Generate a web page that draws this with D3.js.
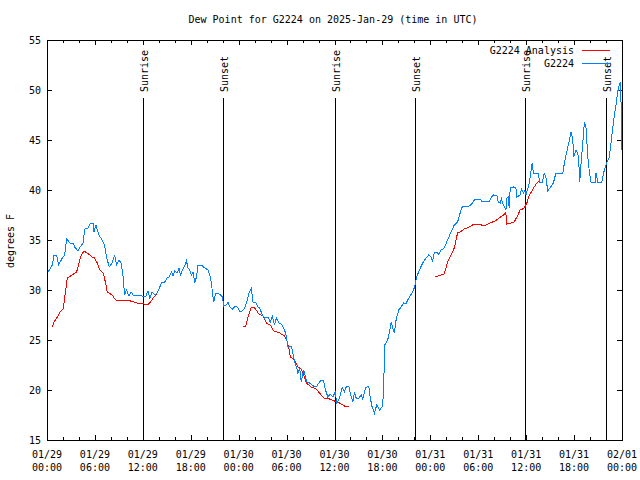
<!DOCTYPE html>
<html><head><meta charset="utf-8">
<script src="https://cdn.jsdelivr.net/npm/d3@7"></script>
<style>body{margin:0;background:#fff}svg{display:block}</style>
</head><body>
<script>
// ---- data (hours since 2025-01-29 00:00 UTC, dew point in °F) ----
const titleText = "Dew Point for G2224 on 2025-Jan-29 (time in UTC)";
const yLabel = "degrees F";
const seriesNames = ["G2224 Analysis", "G2224"];
const yTicks = [15, 20, 25, 30, 35, 40, 45, 50, 55];
const xTickHours = [0, 6, 12, 18, 24, 30, 36, 42, 48, 54, 60, 66, 72];
const xTickDates = ["01/29","01/29","01/29","01/29","01/30","01/30","01/30","01/30","01/31","01/31","01/31","01/31","02/01"];
const xTickTimes = ["00:00","06:00","12:00","18:00","00:00","06:00","12:00","18:00","00:00","06:00","12:00","18:00","00:00"];
const sunHours = [12.03, 22.03, 36.03, 46.03, 59.88, 70.03];
const sunLabels = ["Sunrise","Sunset","Sunrise","Sunset","Sunrise","Sunset"];

const g2224 = [
[0,31.7],[0.13,31.8],[0.66,32.5],[0.88,33.5],[1.21,33.5],[1.46,32.5],[1.91,33.2],[2.21,33.5],[2.46,35.1],[2.88,34.7],
[3.29,34.7],[3.46,34.3],[3.88,33.9],[4.13,34.3],[4.54,34.7],[4.71,36.1],[5.13,36.2],[5.46,36.7],[5.79,36.7],[5.88,35.8],
[6.13,36.5],[6.5,35.5],[6.91,35.0],[7.21,34.5],[7.46,33.3],[7.79,32.3],[8.16,32.7],[8.46,33.5],[8.71,32.5],[9.0,33.0],
[9.29,32.7],[9.54,31.3],[9.71,29.5],[9.96,30.0],[10.25,29.4],[10.54,29.8],[10.88,29.4],[11.29,29.5],[11.91,29.4],[12.34,29.3],
[12.63,29.9],[12.88,29.2],[13.16,29.8],[13.5,29.5],[13.79,29.7],[14.13,30.3],[14.34,30.7],[14.75,30.8],[15.04,31.2],[15.29,31.3],
[15.59,31.8],[15.79,31.4],[16.0,31.9],[16.29,31.7],[16.54,32.2],[16.71,31.4],[16.96,32.0],[17.25,32.4],[17.46,32.9],[17.66,32.2],
[17.88,32.0],[18.09,31.5],[18.29,31.8],[18.5,30.7],[18.71,31.3],[18.91,32.5],[19.34,32.5],[19.75,32.2],[20.16,32.0],[20.38,31.5],
[20.59,30.7],[20.71,29.8],[20.88,28.8],[21.13,29.7],[21.41,29.7],[21.71,29.5],[21.96,29.3],[22.13,28.4],[22.46,28.5],[22.66,28.8],
[22.88,28.3],[23.21,28.1],[23.63,28.4],[23.91,28.2],[24.21,27.8],[24.46,27.9],[24.75,28.2],[25.04,28.9],[25.29,29.7],[25.59,30.2],
[25.79,28.8],[26.21,28.7],[26.41,28.3],[26.63,28.2],[26.96,27.5],[27.25,27.2],[27.66,27.3],[27.96,26.8],[28.21,27.4],[28.5,26.5],
[28.71,27.2],[29.04,26.7],[29.34,26.6],[29.63,26.2],[29.88,25.7],[30.04,25.0],[30.16,24.4],[30.59,24.4],[30.79,23.7],[31.0,22.8],
[31.29,22.2],[31.41,21.6],[31.63,22.2],[31.84,20.8],[32.13,22.0],[32.38,21.3],[32.54,20.8],[32.88,20.7],[33.38,20.4],[33.71,20.3],
[34.04,20.7],[34.34,21.0],[34.63,20.9],[34.88,20.0],[35.16,19.3],[35.46,19.6],[35.79,19.3],[36.09,19.8],[36.29,18.7],[36.63,19.2],
[36.96,20.3],[37.25,19.8],[37.46,20.3],[37.79,20.4],[37.96,19.7],[38.29,18.8],[38.5,19.8],[38.71,19.2],[39.04,19.2],[39.34,19.5],
[39.54,19.1],[39.88,20.2],[40.29,20.4],[40.46,19.3],[40.71,18.3],[41.0,17.7],[41.29,18.5],[41.63,18.0],[41.96,18.3],[42.13,19.5],
[42.29,24.5],[42.66,25.0],[42.88,25.8],[43.09,26.8],[43.29,26.2],[43.5,25.7],[43.71,27.0],[44.04,28.0],[44.34,28.3],[44.63,28.7],
[44.96,28.6],[45.16,29.0],[45.38,29.3],[45.71,29.7],[46.04,30.3],[46.29,31.3],[46.63,32.0],[47.04,32.7],[47.46,33.2],[47.79,33.5],
[48.09,33.3],[48.29,32.9],[48.5,33.8],[48.79,33.8],[49.04,33.6],[49.34,34.0],[49.75,34.2],[50.16,35.0],[50.59,35.8],[51.0,36.5],
[51.41,36.8],[51.84,38.0],[52.04,38.4],[52.88,38.4],[53.29,38.7],[53.59,39.1],[54.25,39.1],[54.41,38.9],[55.38,38.9],[55.66,39.3],
[55.91,39.5],[56.34,39.4],[56.5,38.8],[56.75,38.7],[56.91,39.1],[57.16,38.5],[57.46,38.0],[57.59,39.2],[57.75,39.3],[57.88,38.2],
[58.0,40.2],[58.41,40.3],[58.71,40.2],[58.84,39.3],[59.25,39.5],[59.41,40.1],[59.66,39.7],[59.84,40.0],[59.96,39.5],[60.16,40.0],
[60.38,40.7],[60.59,41.8],[60.75,42.7],[60.91,41.7],[61.5,41.7],[61.69,40.8],[62.04,40.8],[62.25,41.7],[62.46,41.3],[62.71,39.9],
[63.41,40.7],[63.66,41.5],[63.75,41.7],[64.59,41.7],[64.79,42.7],[65.13,44.0],[65.41,45.0],[65.63,45.8],[65.84,45.0],[65.96,43.3],
[66.25,44.0],[66.46,43.7],[66.59,42.7],[66.71,40.8],[66.88,42.7],[67.09,44.7],[67.29,46.8],[67.5,46.2],[67.71,43.3],[67.96,41.5],
[68.13,40.8],[68.63,40.8],[68.75,41.7],[68.96,40.8],[69.46,40.8],[69.79,42.0],[70.13,42.8],[70.41,43.3],[70.71,45.3],[70.96,47.0],
[71.25,48.5],[71.46,49.8],[71.66,50.5],[71.79,50.8],[71.88,48.7],[71.96,44.0]
];

const g2224Analysis = [
[0.66,26.3],[0.88,26.8],[1.29,27.3],[1.63,27.8],[2.04,28.1],[2.21,29.2],[2.54,31.2],[2.96,31.4],[3.71,31.8],[4.0,32.7],
[4.29,33.5],[4.63,33.9],[5.04,33.7],[5.66,33.3],[5.96,33.2],[6.29,32.7],[6.63,32.0],[7.04,31.7],[7.34,30.7],[7.54,29.8],
[8.16,29.5],[8.59,29.0],[10.46,28.9],[11.29,28.7],[12.13,28.6],[12.63,28.5],[12.96,28.8],[13.38,29.3],[13.75,29.6],
[19.0,null],
[24.54,26.4],[24.88,26.4],[25.16,27.3],[25.59,28.3],[26.0,28.2],[26.54,27.6],[27.04,27.4],[27.46,26.7],[27.96,26.5],[28.38,25.9],
[29.13,25.7],[29.75,25.4],[30.04,24.9],[30.29,24.2],[30.46,23.3],[31.0,23.0],[31.41,22.3],[31.84,22.1],[32.13,21.5],[32.46,20.7],
[33.09,20.3],[33.71,20.1],[34.13,19.7],[34.63,19.2],[35.38,19.1],[36.0,18.9],[36.63,18.7],[37.25,18.4],[37.79,18.3],
[43.0,null],
[48.63,31.3],[49.34,31.5],[49.75,31.6],[50.16,32.8],[50.59,33.5],[51.0,34.2],[51.41,35.7],[51.75,35.8],[52.25,36.1],[52.88,36.3],
[53.5,36.6],[53.91,36.6],[54.41,36.5],[54.96,36.5],[55.5,36.7],[56.09,36.9],[56.63,37.2],[57.16,37.5],[57.46,37.8],[57.54,36.6],
[58.09,36.7],[58.5,36.8],[58.84,37.3],[59.25,38.0],[59.54,38.1],[59.75,38.2],[60.09,38.7],[60.38,39.5],[60.66,39.8],[61.0,40.3],
[61.34,40.7],[61.63,40.9]
];

// ---- drawing ----
const W = 640, H = 480;
const L = 47, R = 622, T = 40, B = 440;
const FONT = "'DejaVu Sans Mono', 'Liberation Mono', monospace";
const t0 = Date.UTC(2025, 0, 29, 0, 0);
const toDate = h => new Date(t0 + h * 3600e3);

const x = d3.scaleUtc().domain([toDate(0), toDate(72)]).range([L, R]);
const y = d3.scaleLinear().domain([15, 55]).range([B, T]);

const svg = d3.select("body").append("svg").attr("width", W).attr("height", H)
  .style("font-family", FONT).style("font-size", "10px");
svg.append("rect").attr("width", W).attr("height", H).attr("fill", "#fff");

const majorTicks = xTickHours.map(toDate);
const minorTicks = d3.range(0, 73, 2).filter(h => h % 6 !== 0).map(toDate);

function styleAxis(g) {
  g.select(".domain").remove();
  g.selectAll(".tick line").attr("stroke", "#000").attr("shape-rendering", "crispEdges");
  g.selectAll(".tick text").remove();
}
svg.append("g").attr("transform", `translate(0,${B})`)
  .call(d3.axisBottom(x).tickValues(majorTicks).tickSize(-5).tickSizeOuter(0)).call(styleAxis);
svg.append("g").attr("transform", `translate(0,${B})`)
  .call(d3.axisBottom(x).tickValues(minorTicks).tickSize(-3).tickSizeOuter(0)).call(styleAxis);
svg.append("g").attr("transform", `translate(0,${T})`)
  .call(d3.axisTop(x).tickValues(majorTicks).tickSize(-5).tickSizeOuter(0)).call(styleAxis);
svg.append("g").attr("transform", `translate(0,${T})`)
  .call(d3.axisTop(x).tickValues(minorTicks).tickSize(-3).tickSizeOuter(0)).call(styleAxis);
svg.append("g").attr("transform", `translate(${L},0)`)
  .call(d3.axisLeft(y).tickValues(yTicks).tickSize(-5).tickSizeOuter(0)).call(styleAxis);
svg.append("g").attr("transform", `translate(${R},0)`)
  .call(d3.axisRight(y).tickValues(yTicks).tickSize(-5).tickSizeOuter(0)).call(styleAxis);

svg.append("g").selectAll("text").data(yTicks).join("text")
  .attr("x", L - 6).attr("y", d => y(d)).attr("dy", "0.35em")
  .attr("text-anchor", "end").attr("fill", "#000").text(d => d);

const xl = svg.append("g").selectAll("text").data(xTickHours).join("text")
  .attr("text-anchor", "middle").attr("fill", "#000");
xl.append("tspan").attr("x", (d) => x(toDate(d))).attr("y", 458).text((d, i) => xTickDates[i]);
xl.append("tspan").attr("x", (d) => x(toDate(d))).attr("y", 471).text((d, i) => xTickTimes[i]);

svg.append("text").attr("x", 333).attr("y", 23).attr("text-anchor", "middle").attr("fill", "#000").text(titleText);
svg.append("text").attr("transform", `translate(14,241) rotate(-90)`).attr("text-anchor", "middle").attr("fill", "#000").text(yLabel);

const sun = svg.append("g");
sunHours.forEach((h, i) => {
  const sx = Math.round(x(toDate(h))) + 0.5;
  sun.append("line").attr("x1", sx).attr("x2", sx).attr("y1", 98).attr("y2", B)
    .attr("stroke", "#000").attr("stroke-width", 1).attr("shape-rendering", "crispEdges");
  sun.append("text").attr("transform", `translate(${sx + 4},92) rotate(-90)`)
    .attr("text-anchor", "start").attr("fill", "#000").text(sunLabels[i]);
});

const line = d3.line().defined(d => d[1] != null)
  .x(d => x(toDate(d[0]))).y(d => y(d[1]));
svg.append("path").datum(g2224Analysis).attr("d", line)
  .attr("fill", "none").attr("stroke", "#ff0000").attr("stroke-width", 1)
  .attr("shape-rendering", "crispEdges");
svg.append("path").datum(g2224).attr("d", line)
  .attr("fill", "none").attr("stroke", "#0080ff").attr("stroke-width", 1)
  .attr("shape-rendering", "crispEdges");

svg.append("rect").attr("x", L + 0.5).attr("y", T + 0.5).attr("width", R - L).attr("height", B - T)
  .attr("fill", "none").attr("stroke", "#000").attr("shape-rendering", "crispEdges");

const legColors = ["#ff0000", "#0080ff"];
seriesNames.forEach((name, i) => {
  const ly = 50 + i * 13;
  svg.append("text").attr("x", 574).attr("y", ly).attr("dy", "0.35em").attr("text-anchor", "end")
    .attr("fill", "#000").text(name);
  svg.append("line").attr("x1", 582).attr("x2", 610).attr("y1", ly + 0.5).attr("y2", ly + 0.5)
    .attr("stroke", legColors[i]).attr("shape-rendering", "crispEdges");
});
</script>
</body></html>
